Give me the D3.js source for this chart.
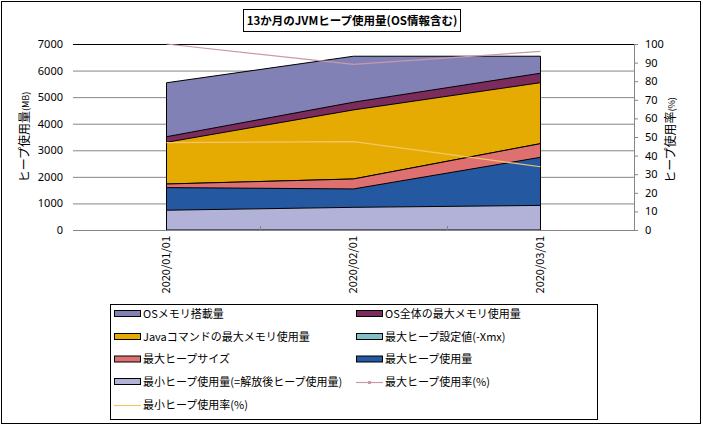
<!DOCTYPE html>
<html><head><meta charset="utf-8">
<script src="https://cdn.jsdelivr.net/npm/d3@7"></script>
<style>
body{margin:0;background:#fff;}
text{font-family:"Noto Sans CJK JP","Noto Sans",sans-serif;}
</style></head>
<body><svg id="c" width="703" height="426"></svg>
<script>
const categories = ["2020/01/01","2020/02/01","2020/03/01"];
const osMem      = [5540, 6540, 6540];
const osMaxUse   = [3510, 4810, 5900];
const javaMax    = [3300, 4520, 5545];
const heapXmx    = [1730, 1920, 3250];
const heapSize   = [1730, 1920, 3250];
const heapMaxUse = [1595, 1545, 2735];
const heapMinUse = [745, 853, 925];
const maxRate    = [100, 89, 96];
const minRate    = [47, 47.5, 34];
const leftTicks  = [0,1000,2000,3000,4000,5000,6000,7000];
const rightTicks = [0,10,20,30,40,50,60,70,80,90,100];

const areaSeries = [
  {name:"OSメモリ搭載量", values:osMem, color:"#8181b6"},
  {name:"OS全体の最大メモリ使用量", values:osMaxUse, color:"#7b2b5c"},
  {name:"Javaコマンドの最大メモリ使用量", values:javaMax, color:"#e6ab02"},
  {name:"最大ヒープ設定値(-Xmx)", values:heapXmx, color:"#80c0c8"},
  {name:"最大ヒープサイズ", values:heapSize, color:"#de7070"},
  {name:"最大ヒープ使用量", values:heapMaxUse, color:"#2458a0"},
  {name:"最小ヒープ使用量(=解放後ヒープ使用量)", values:heapMinUse, color:"#b2b2d8"}
];
const lineSeries = [
  {name:"最大ヒープ使用率(%)", values:maxRate, color:"#c89aab", marker:true},
  {name:"最小ヒープ使用率(%)", values:minRate, color:"#f7c46a", marker:false}
];

const svg = d3.select("#c");
const L=73, R=634, T=44, B=230;
const x = d3.scaleBand().domain(categories).range([L,R]);
const cx = c => x(c) + x.bandwidth()/2;
const yL = d3.scaleLinear().domain([0,7000]).range([B,T]);
const yR = d3.scaleLinear().domain([0,100]).range([B,T]);

// outer border
svg.append("rect").attr("x",1.5).attr("y",1.5).attr("width",699).attr("height",422)
  .attr("fill","#fff").attr("stroke","#000").attr("stroke-width",1);

// gridlines
const grid = svg.append("g").attr("transform",`translate(${L},0)`)
  .call(d3.axisLeft(yL).tickValues(leftTicks).tickSize(-(R-L)).tickFormat(""));
grid.select(".domain").remove();
grid.selectAll(".tick line").attr("stroke",d=>d===7000?"#000":"#868686").attr("stroke-width",1);

// areas
const area = d3.area().x((d,i)=>cx(categories[i])).y0(yL(0)).y1(d=>yL(d));
areaSeries.forEach(s=>{
  svg.append("path").datum(s.values).attr("d",area)
    .attr("fill",s.color).attr("stroke","#000").attr("stroke-width",1).attr("stroke-linejoin","miter");
});

// x axis baseline & boundary ticks
const xb = svg.append("g").attr("transform",`translate(0,${B})`)
  .call(d3.axisBottom(x).tickSize(0).tickFormat(""));
xb.select(".domain").attr("stroke","#868686").attr("d",`M${L},0.5H${R}`);
const bounds = categories.slice(1).map(c=>x(c));
xb.selectAll(".bt").data(bounds).enter().append("line").attr("class","bt")
  .attr("x1",d=>d+0.5).attr("x2",d=>d+0.5).attr("y1",0).attr("y2",-4).attr("stroke","#868686");
svg.append("g").selectAll("text").data(categories).enter().append("text")
  .attr("transform",d=>`translate(${cx(d)},${B+6}) rotate(-90)`)
  .attr("text-anchor","end").attr("dy","0.35em").attr("font-size",11).attr("fill","#000").text(d=>d);

// left axis labels
const la = svg.append("g").attr("transform",`translate(${L},0)`)
  .call(d3.axisLeft(yL).tickValues(leftTicks).tickSize(0).tickPadding(10).tickFormat(d3.format("d")));
la.select(".domain").remove();
la.selectAll("text").attr("font-size",11).attr("fill","#000").style("font-family","'Noto Sans','Noto Sans CJK JP',sans-serif");

// right axis
const ra = svg.append("g").attr("transform",`translate(${R},0)`)
  .call(d3.axisRight(yR).tickValues(rightTicks).tickSize(4).tickPadding(7).tickFormat(d3.format("d")));
ra.select(".domain").attr("stroke","#868686");
ra.selectAll(".tick line").attr("stroke","#868686");
ra.selectAll("text").attr("font-size",11).attr("fill","#000").style("font-family","'Noto Sans','Noto Sans CJK JP',sans-serif");

// lines
const line = d3.line().x((d,i)=>cx(categories[i])).y(d=>yR(d));
lineSeries.forEach(s=>{
  svg.append("path").datum(s.values).attr("d",line).attr("fill","none")
    .attr("stroke",s.color).attr("stroke-width",1.2);
});

// axis titles
const lt = svg.append("text").attr("transform",`translate(29,${(T+B)/2}) rotate(-90)`)
  .attr("text-anchor","middle").attr("font-size",12).attr("fill","#000");
lt.append("tspan").text("ヒープ使用量");
lt.append("tspan").attr("font-size",9).text("(MB)");
const rt = svg.append("text").attr("transform",`translate(675,${(T+B)/2+3}) rotate(-90)`)
  .attr("text-anchor","middle").attr("font-size",12).attr("fill","#000");
rt.append("tspan").text("ヒープ使用率");
rt.append("tspan").attr("font-size",9).text("(%)");

// title
svg.append("rect").attr("x",243.5).attr("y",9.5).attr("width",217).attr("height",22)
  .attr("fill","#fff").attr("stroke","#000");
svg.append("text").attr("x",352).attr("y",21).attr("dy","0.35em").attr("text-anchor","middle")
  .attr("font-size",11.5).attr("font-weight","bold").attr("fill","#000")
  .text("13か月のJVMヒープ使用量(OS情報含む)");

// legend
svg.append("rect").attr("x",110.5).attr("y",304.5).attr("width",487).attr("height",115)
  .attr("fill","#fff").attr("stroke","#000");
const items = areaSeries.map(s=>({...s,type:"area"})).concat(lineSeries.map(s=>({...s,type:"line"})));
const colX = [114, 356], rowY = [314, 337, 359.5, 382, 405];
items.forEach((it,i)=>{
  const gx = colX[i%2], gy = rowY[Math.floor(i/2)];
  const g = svg.append("g").attr("transform",`translate(${gx},${gy})`);
  if(it.type==="area"){
    g.append("rect").attr("x",0.5).attr("y",-3.5).attr("width",26).attr("height",6)
      .attr("fill",it.color).attr("stroke","#000").attr("stroke-width",1);
  } else {
    g.append("line").attr("x1",0).attr("x2",27).attr("y1",0.5).attr("y2",0.5)
      .attr("stroke",it.color).attr("stroke-width",1.2);
    if(it.marker) g.append("rect").attr("x",12).attr("y",-1).attr("width",3).attr("height",3).attr("fill",it.color);
  }
  g.append("text").attr("x",29).attr("y",0).attr("dy","0.35em").attr("font-size",11).attr("fill","#000").text(it.name);
});
</script></body></html>
